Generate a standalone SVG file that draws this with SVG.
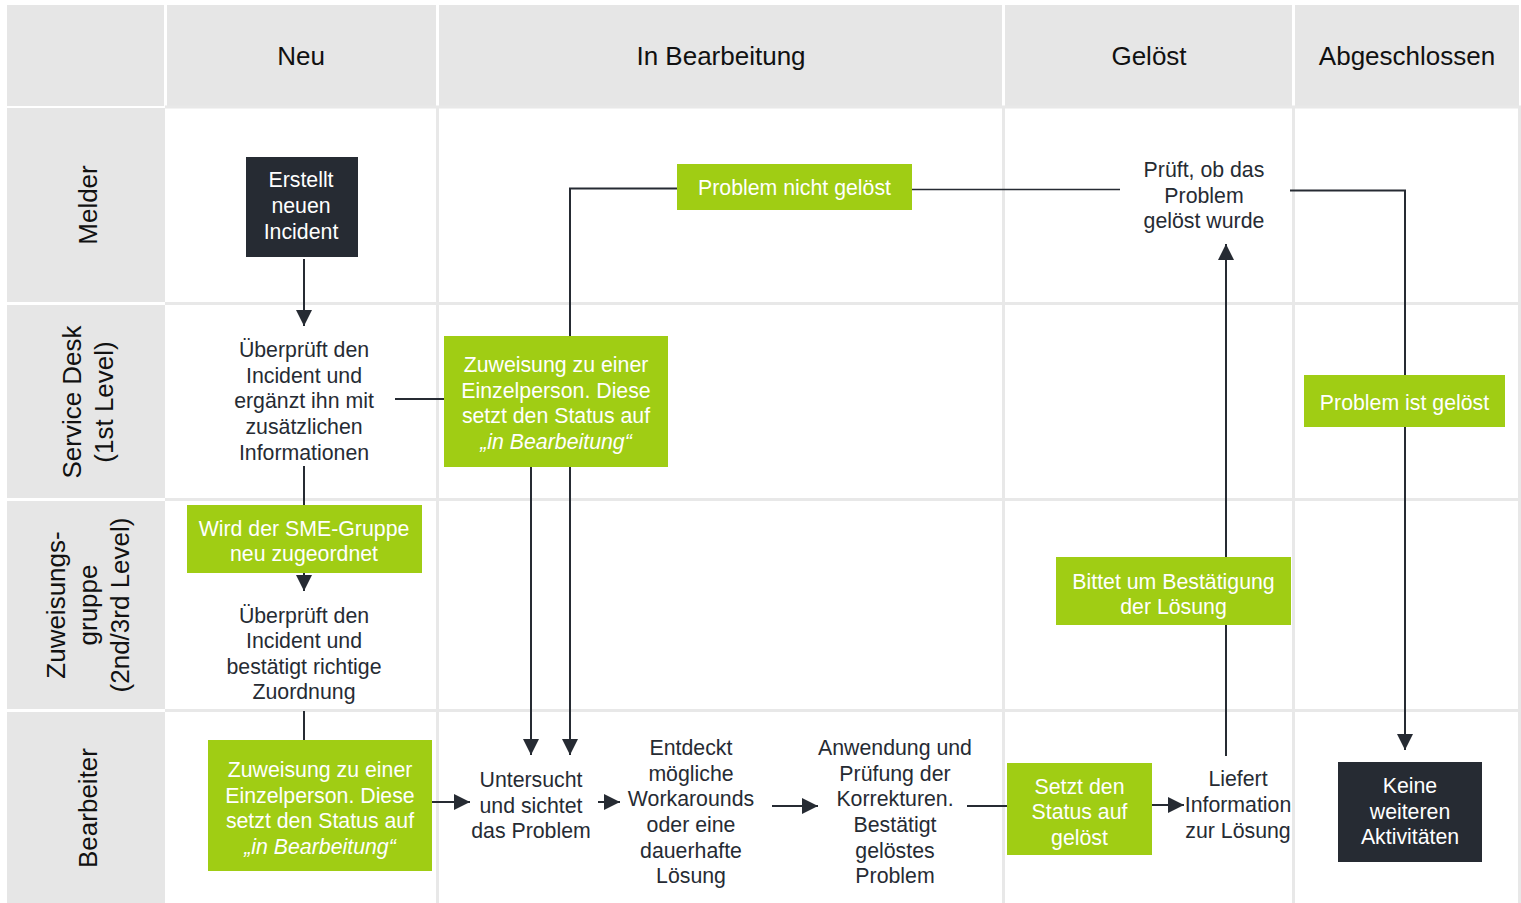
<svg xmlns="http://www.w3.org/2000/svg" width="1521" height="903" viewBox="0 0 1521 903">
<defs>
<style>
.hdr{fill:#e6e6e6}
.grid{stroke:#e8e8e8;stroke-width:3;fill:none}
.t{font-family:"Liberation Sans",Arial,sans-serif;font-size:21.3px;fill:#262b33;text-anchor:middle}
.tw{font-family:"Liberation Sans",Arial,sans-serif;font-size:21.3px;fill:#ffffff;text-anchor:middle}
.h{font-family:"Liberation Sans",Arial,sans-serif;font-size:26px;fill:#111111;text-anchor:middle}
.green{fill:#a0cd14}
.dark{fill:#262b33}
.c{stroke:#262b33;stroke-width:2;fill:none}
.ct{stroke:#262b33;stroke-width:1.5;fill:none}
.a{marker-end:url(#ah)}
</style>
<marker id="ah" markerUnits="userSpaceOnUse" markerWidth="16" markerHeight="16" viewBox="0 0 15 15" refX="15" refY="7.5" orient="auto">
<path d="M0,0 L15,7.5 L0,15 z" fill="#262b33"/>
</marker>
</defs>
<rect width="1521" height="903" fill="#ffffff"/>
<g id="grid">
<rect class="hdr" x="7" y="5" width="157" height="101"/>
<rect class="hdr" x="167" y="5" width="269" height="101"/>
<rect class="hdr" x="439" y="5" width="563" height="101"/>
<rect class="hdr" x="1005" y="5" width="287" height="101"/>
<rect class="hdr" x="1295" y="5" width="224" height="101"/>
<rect class="hdr" x="7" y="108" width="158" height="194"/>
<rect class="hdr" x="7" y="305" width="158" height="193"/>
<rect class="hdr" x="7" y="501" width="158" height="208"/>
<rect class="hdr" x="7" y="712" width="158" height="191"/>
<path class="grid" d="M437.5,106 V903 M1003.5,106 V903 M1293.5,106 V903 M1519.5,106 V903 M165,107 H1521 M165,303.5 H1521 M165,499.5 H1521 M165,710.5 H1521"/>
<text class="h" x="301" y="65">Neu</text>
<text class="h" x="721" y="65">In Bearbeitung</text>
<text class="h" x="1149" y="65">Gelöst</text>
<text class="h" x="1407" y="65">Abgeschlossen</text>
<text class="h" transform="translate(97,205) rotate(-90)">Melder</text>
<text class="h" transform="translate(80.5,402) rotate(-90)">Service Desk</text>
<text class="h" transform="translate(112.5,402) rotate(-90)">(1st Level)</text>
<text class="h" transform="translate(64.5,605) rotate(-90)">Zuweisungs-</text>
<text class="h" transform="translate(96.5,605) rotate(-90)">gruppe</text>
<text class="h" transform="translate(128.5,605) rotate(-90)">(2nd/3rd Level)</text>
<text class="h" transform="translate(97,808) rotate(-90)">Bearbeiter</text>
</g>
<g id="connectors">
<path class="c a" d="M304,259 V326"/>
<path class="c" d="M395,399 H444"/>
<path class="c" d="M304,466 V505"/>
<path class="c a" d="M304,573 V591"/>
<path class="c" d="M304,711 V740"/>
<path class="c a" d="M432,802 H470"/>
<path class="c a" d="M598,802 H620"/>
<path class="c a" d="M772,806 H818"/>
<path class="c" d="M967,806 H1007"/>
<path class="c a" d="M1152,805 H1184"/>
<path class="c" d="M1226,756 V625"/>
<path class="c a" d="M1226,557 V244"/>
<path class="c" d="M570,336 V188.5 H677"/>
<path class="ct" d="M912,189.5 H1120"/>
<path class="c a" d="M531,467 V755"/>
<path class="c a" d="M570,467 V755"/>
<path class="c" d="M1290,190.5 H1405 V375"/>
<path class="c a" d="M1405,427 V750"/>
</g>
<g id="n-erstellt">
<rect class="dark" x="246" y="157" width="112" height="100"/>
<text class="tw" x="301" y="187">Erstellt</text>
<text class="tw" x="301" y="213">neuen</text>
<text class="tw" x="301" y="239">Incident</text>
</g>
<g id="n-ueberprueft-sd">
<text class="t" x="304" y="357">Überprüft den</text>
<text class="t" x="304" y="382.7">Incident und</text>
<text class="t" x="304" y="408.4">ergänzt ihn mit</text>
<text class="t" x="304" y="434.1">zusätzlichen</text>
<text class="t" x="304" y="459.8">Informationen</text>
</g>
<g id="n-zuweisung-sd">
<rect class="green" x="444" y="336" width="224" height="131"/>
<text class="tw" x="556" y="372">Zuweisung zu einer</text>
<text class="tw" x="556" y="397.7">Einzelperson. Diese</text>
<text class="tw" x="556" y="423.4">setzt den Status auf</text>
<text class="tw" x="556" y="449.1" font-style="italic">„in Bearbeitung“</text>
</g>
<g id="n-nicht-geloest">
<rect class="green" x="677" y="164" width="235" height="46"/>
<text class="tw" x="794.5" y="195">Problem nicht gelöst</text>
</g>
<g id="n-prueft">
<text class="t" x="1204" y="177">Prüft, ob das</text>
<text class="t" x="1204" y="202.7">Problem</text>
<text class="t" x="1204" y="228.4">gelöst wurde</text>
</g>
<g id="n-ist-geloest">
<rect class="green" x="1304" y="375" width="201" height="52"/>
<text class="tw" x="1404.5" y="410">Problem ist gelöst</text>
</g>
<g id="n-sme">
<rect class="green" x="187" y="505" width="235" height="68"/>
<text class="tw" x="304" y="536">Wird der SME-Gruppe</text>
<text class="tw" x="304" y="561">neu zugeordnet</text>
</g>
<g id="n-ueberprueft-zg">
<text class="t" x="304" y="623">Überprüft den</text>
<text class="t" x="304" y="648.4">Incident und</text>
<text class="t" x="304" y="674">bestätigt richtige</text>
<text class="t" x="304" y="699.4">Zuordnung</text>
</g>
<g id="n-bittet">
<rect class="green" x="1056" y="557" width="235" height="68"/>
<text class="tw" x="1173.5" y="589">Bittet um Bestätigung</text>
<text class="tw" x="1173.5" y="614">der Lösung</text>
</g>
<g id="n-zuweisung-b">
<rect class="green" x="208" y="740" width="224" height="131"/>
<text class="tw" x="320" y="777">Zuweisung zu einer</text>
<text class="tw" x="320" y="802.7">Einzelperson. Diese</text>
<text class="tw" x="320" y="828.4">setzt den Status auf</text>
<text class="tw" x="320" y="854.1" font-style="italic">„in Bearbeitung“</text>
</g>
<g id="n-untersucht">
<text class="t" x="531" y="787">Untersucht</text>
<text class="t" x="531" y="812.7">und sichtet</text>
<text class="t" x="531" y="838.4">das Problem</text>
</g>
<g id="n-entdeckt">
<text class="t" x="691" y="755">Entdeckt</text>
<text class="t" x="691" y="780.7">mögliche</text>
<text class="t" x="691" y="806.4">Workarounds</text>
<text class="t" x="691" y="832.1">oder eine</text>
<text class="t" x="691" y="857.8">dauerhafte</text>
<text class="t" x="691" y="883.4">Lösung</text>
</g>
<g id="n-anwendung">
<text class="t" x="895" y="755">Anwendung und</text>
<text class="t" x="895" y="780.7">Prüfung der</text>
<text class="t" x="895" y="806.4">Korrekturen.</text>
<text class="t" x="895" y="832.1">Bestätigt</text>
<text class="t" x="895" y="857.8">gelöstes</text>
<text class="t" x="895" y="883.4">Problem</text>
</g>
<g id="n-setzt">
<rect class="green" x="1007" y="763" width="145" height="92"/>
<text class="tw" x="1079.5" y="794">Setzt den</text>
<text class="tw" x="1079.5" y="819.4">Status auf</text>
<text class="tw" x="1079.5" y="845">gelöst</text>
</g>
<g id="n-liefert">
<text class="t" x="1238" y="786">Liefert</text>
<text class="t" x="1238" y="812">Information</text>
<text class="t" x="1238" y="838">zur Lösung</text>
</g>
<g id="n-keine">
<rect class="dark" x="1338" y="762" width="144" height="100"/>
<text class="tw" x="1410" y="793">Keine</text>
<text class="tw" x="1410" y="819">weiteren</text>
<text class="tw" x="1410" y="844">Aktivitäten</text>
</g>
</svg>
